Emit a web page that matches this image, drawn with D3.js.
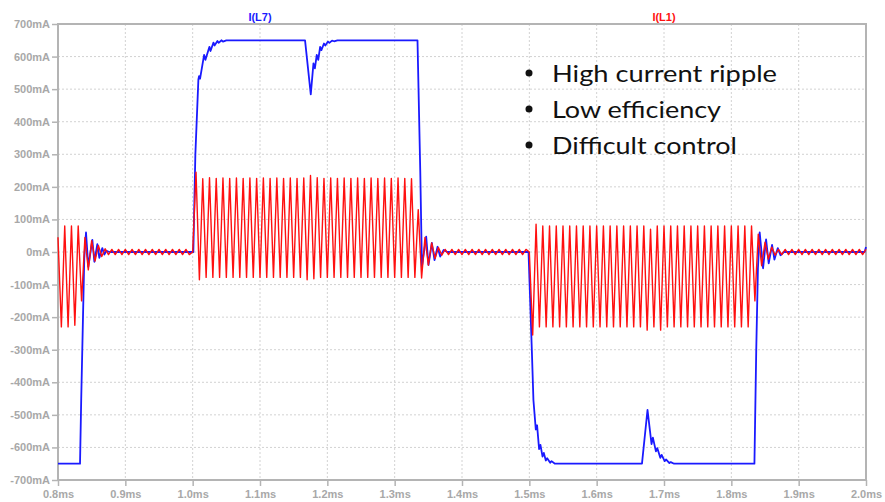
<!DOCTYPE html>
<html>
<head>
<meta charset="utf-8">
<script src="https://cdn.jsdelivr.net/npm/d3@7"></script>
<style>
  body { margin: 0; background: #fff; }
  svg { display: block; }
</style>
</head>
<body>
<svg id="chart" width="885" height="502"></svg>
<script>
// axis ticks
var xTicks = [0.8, 0.9, 1.0, 1.1, 1.2, 1.3, 1.4, 1.5, 1.6, 1.7, 1.8, 1.9, 2.0];
var yTicks = [700, 600, 500, 400, 300, 200, 100, 0, -100, -200, -300, -400, -500, -600, -700];

// trace names
var blueName = "I(L7)";
var redName = "I(L1)";

// bullet notes
var notes = ["High current ripple", "Low efficiency", "Difficult control"];

// I(L7): [time ms, current mA]
var blueL7 = [
  [0.800, -650], [0.8327, -650], [0.8345, -450], [0.8367, -240], [0.8390, -20],
  [0.8416, 60], [0.8450, -45], [0.8510, 37], [0.8540, -30], [0.8584, 24],
  [0.8614, -18], [0.8658, 12], [0.8688, -8], [0.8720, 4], [0.8760, 0],
  [1.0010, 0], [1.0040, 300], [1.0085, 530], [1.0095, 540], [1.0110, 532],
  [1.0170, 605], [1.0190, 590], [1.0249, 630], [1.0265, 617], [1.0309, 643],
  [1.0325, 634], [1.0368, 648], [1.0385, 642], [1.0430, 650], [1.0450, 646],
  [1.0500, 650],
  [1.1669, 650], [1.1754, 484], [1.1794, 579], [1.1815, 564], [1.1843, 605],
  [1.1865, 590], [1.1893, 630], [1.1912, 620], [1.1950, 640], [1.1970, 634],
  [1.2010, 646], [1.2030, 642], [1.2070, 649], [1.2100, 647], [1.2150, 650],
  [1.3339, 650], [1.3380, 250], [1.3405, -45], [1.3468, 47], [1.3502, -40],
  [1.3552, 28], [1.3592, -25], [1.3637, 16], [1.3676, -14], [1.3726, 6],
  [1.3780, 0],
  [1.4988, 0], [1.5037, -300], [1.5061, -455], [1.5096, -545], [1.5115, -532],
  [1.5145, -605], [1.5165, -592], [1.5196, -628], [1.5215, -617], [1.5245, -640],
  [1.5265, -633], [1.5310, -647], [1.5330, -642], [1.5380, -650],
  [1.6673, -650], [1.6755, -485], [1.6815, -590], [1.6835, -570], [1.6880, -612],
  [1.6900, -602], [1.6945, -632], [1.6965, -623], [1.7010, -642], [1.7030, -637],
  [1.7080, -648], [1.7100, -645], [1.7150, -650],
  [1.8343, -650], [1.8370, -300], [1.8395, -50], [1.8421, 60], [1.8471, -50],
  [1.8516, 39], [1.8555, -35], [1.8605, 22], [1.8640, -23], [1.8690, 12],
  [1.8730, -10], [1.8780, 0],
  [1.9980, 0], [2.0000, 15]
];

// I(L1): sampled every 0.005 ms from 0.8 ms (mA)
var redStart = 0.8;
var redStep = 0.005;
var redL1 = [
  // 0.800 - 0.870
  45, -230, 80, -230, 80, -225, 80, -150, 45, -55, 35, -28, 20, -14, 10,
  // 0.875 - 0.995
  -8, 8, -8, 8, -8, 8, -8, 8, -8, 8, -8, 8, -8, 8, -8, 8, -8, 8, -8, 8, -8, 8, -8, 8, -8,
  // 1.000
  0,
  // 1.005 - 1.340
  245, -85, 225, -78, 228, -78, 226, -78, 227, -78,
  226, -78, 227, -78, 226, -78, 227, -78, 226, -78,
  227, -78, 226, -78, 227, -78, 226, -78, 227, -78,
  226, -78, 227, -85, 235, -82, 228, -78, 226, -78,
  227, -78, 226, -78, 227, -78, 226, -78, 227, -78,
  226, -78, 227, -78, 226, -78, 227, -78, 226, -78,
  227, -78, 226, -78, 225, -78, 130, -80,
  // 1.345 - 1.375
  45, -40, 28, -20, 14, -10, 8,
  // 1.380 - 1.495
  -8, 8, -8, 8, -8, 8, -8, 8, -8, 8, -8, 8, -8, 8, -8, 8, -8, 8, -8, 8, -8, 8, -8, 8,
  // 1.500
  0,
  // 1.505 - 1.835
  -255, 85, -230, 80, -230, 80, -230, 80, -230, 80,
  -230, 80, -230, 80, -230, 80, -230, 80, -230, 80,
  -230, 80, -230, 80, -230, 80, -230, 80, -230, 80,
  -230, 80, -230, 80, -240, 70, -230, 80, -240, 80,
  -230, 80, -230, 80, -230, 80, -230, 80, -230, 80,
  -230, 80, -230, 80, -230, 80, -230, 80, -230, 80,
  -230, 80, -230, 80, -230, 80, -150,
  // 1.840 - 1.870
  55, -42, 30, -22, 15, -10, 8,
  // 1.875 - 2.000
  -8, 8, -8, 8, -8, 8, -8, 8, -8, 8, -8, 8, -8, 8, -8, 8, -8, 8, -8, 8, -8, 8, -8, 8, -8, 8
];

var svg = d3.select("#chart");
var plotLeft = 58, plotRight = 866, plotTop = 24, plotBottom = 480;

var x = d3.scaleLinear().domain([0.8, 2.0]).range([plotLeft, plotRight]);
var y = d3.scaleLinear().domain([-700, 700]).range([plotBottom, plotTop]);

var axisColor = "#b4b4b4";
var labelColor = "#a8a8a8";

// grid
svg.append("g").selectAll("line").data(xTicks.slice(1, -1)).join("line")
  .attr("x1", (d) => x(d)).attr("x2", (d) => x(d))
  .attr("y1", plotTop).attr("y2", plotBottom)
  .attr("stroke", "#d2d2d2").attr("stroke-dasharray", "2,2");
svg.append("g").selectAll("line").data(yTicks.slice(1, -1)).join("line")
  .attr("x1", plotLeft).attr("x2", plotRight)
  .attr("y1", (d) => y(d)).attr("y2", (d) => y(d))
  .attr("stroke", "#d2d2d2").attr("stroke-dasharray", "2,2");

// axes
var yAxis = svg.append("g")
  .attr("transform", `translate(${plotLeft},0)`)
  .call(d3.axisLeft(y).tickValues(yTicks).tickFormat((d) => `${d}mA`).tickSize(6).tickPadding(2));
var xAxis = svg.append("g")
  .attr("transform", `translate(0,${plotBottom})`)
  .call(d3.axisBottom(x).tickValues(xTicks).tickFormat((d) => `${d.toFixed(1)}ms`).tickSize(6).tickPadding(4));

[yAxis, xAxis].forEach((g) => {
  g.select(".domain").remove();
  g.selectAll("line").attr("stroke", axisColor).attr("stroke-width", 1.5);
  g.selectAll("text")
    .attr("fill", labelColor)
    .style("font-family", "'Liberation Sans', Arial, sans-serif")
    .style("font-size", "11px")
    .style("font-weight", "bold");
});

// frame
svg.append("rect")
  .attr("x", plotLeft).attr("y", plotTop)
  .attr("width", plotRight - plotLeft).attr("height", plotBottom - plotTop)
  .attr("fill", "none").attr("stroke", axisColor).attr("stroke-width", 2);

// traces
var line = d3.line().x((d) => x(d[0])).y((d) => y(d[1]));

svg.append("path")
  .datum(blueL7)
  .attr("d", line)
  .attr("fill", "none")
  .attr("stroke", "#1a1aff")
  .attr("stroke-width", 1.8)
  .attr("stroke-linejoin", "round");

var redPoints = redL1.map((v, i) => [redStart + i * redStep, v]);
svg.append("path")
  .datum(redPoints)
  .attr("d", line)
  .attr("fill", "none")
  .attr("stroke", "#ff1010")
  .attr("stroke-width", 1.4)
  .attr("stroke-linejoin", "round");

// trace labels
svg.append("text").text(blueName)
  .attr("x", 260).attr("y", 21).attr("text-anchor", "middle")
  .attr("fill", "#1a1aff")
  .style("font-family", "'Liberation Sans', Arial, sans-serif")
  .style("font-size", "11px").style("font-weight", "bold");
svg.append("text").text(redName)
  .attr("x", 664).attr("y", 21).attr("text-anchor", "middle")
  .attr("fill", "#ff1010")
  .style("font-family", "'Liberation Sans', Arial, sans-serif")
  .style("font-size", "11px").style("font-weight", "bold");

// bullet list
var noteWidths = [225, 169, 185];
var notesG = svg.append("g");
notes.forEach((t, i) => {
  var base = 82 + i * 36;
  notesG.append("circle")
    .attr("cx", 529).attr("cy", base - 9).attr("r", 3.5)
    .attr("fill", "#111");
  notesG.append("text").text(t)
    .attr("x", 552).attr("y", base)
    .attr("fill", "#111")
    .attr("textLength", noteWidths[i])
    .attr("lengthAdjust", "spacingAndGlyphs")
    .style("font-family", "Lato, 'Open Sans', sans-serif")
    .style("font-size", "24px");
});
</script>
</body>
</html>
